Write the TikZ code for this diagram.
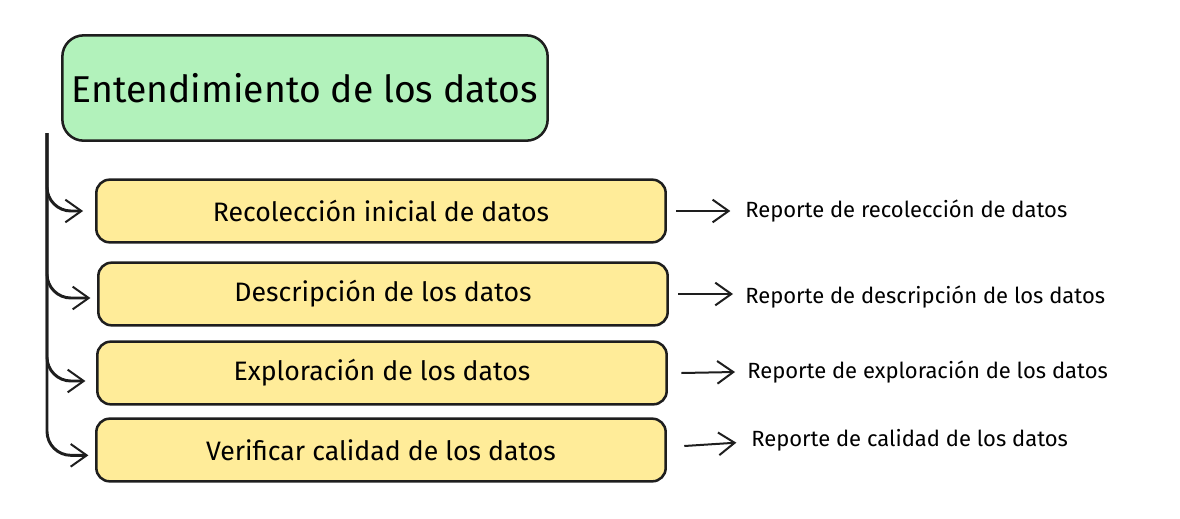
\documentclass[tikz,border=0pt]{standalone}
\usepackage{fontspec}
\setmainfont{Fira Sans}
\usetikzlibrary{arrows.meta}
\definecolor{ink}{HTML}{1E1E1E}
\definecolor{mint}{HTML}{B2F2BB}
\definecolor{butter}{HTML}{FFEC99}
\tikzset{
	titlestyle/.style={rectangle,rounded corners=16pt,draw=ink,line width=1.9pt,fill=mint,minimum width=364pt,minimum height=79pt,font=\fontsize{28}{32}\selectfont},
	taskstyle/.style={rectangle,rounded corners=10pt,draw=ink,line width=1.9pt,fill=butter,minimum width=427pt,minimum height=47pt,font=\fontsize{20}{24}\selectfont},
	reportstyle/.style={anchor=west,inner sep=0pt,font=\fontsize{16.5}{20}\selectfont},
	arr/.style={draw=ink,line width=1.5pt,-{Straight Barb[length=12pt,width=17pt,line width=1.5pt]}}
}
\begin{document}
\begin{tikzpicture}[x=0.75pt,y=-0.75pt]
		\useasboundingbox (0,0) rectangle (1180,518);
		\node[titlestyle] (title) at (305,88) {Entendimiento de los datos};
		\node[taskstyle] (t1) at (381,211) {Recolección inicial de datos};
		\node[taskstyle] (t2) at (383,294) {Descripción de los datos};
		\node[taskstyle] (t3) at (382,373) {Exploración de los datos};
		\node[taskstyle] (t4) at (381,450) {Verificar calidad de los datos};
		\node[reportstyle] (r1) at (745,211) {Reporte de recolección de datos};
		\node[reportstyle] (r2) at (745,297) {Reporte de descripción de los datos};
		\node[reportstyle] (r3) at (747,372) {Reporte de exploración de los datos};
		\node[reportstyle] (r4) at (751,440) {Reporte de calidad de los datos};
		\coordinate (spine) at (47,133);
		\draw[arr,line width=2.2pt,rounded corners=18pt] (spine) |- ([xshift=-9pt]t1.west);
		\draw[arr,line width=2.2pt,rounded corners=18pt] (spine) |- ([xshift=-5pt,yshift=-3pt]t2.west);
		\draw[arr,line width=2.2pt,rounded corners=18pt] (spine) |- ([xshift=-8pt,yshift=-6pt]t3.west);
		\draw[arr,line width=2.2pt,rounded corners=18pt] (spine) |- ([xshift=-5pt,yshift=-4pt]t4.west);
		\draw[arr] ([xshift=7pt]t1.east) -- ([xshift=-11pt]r1.west);
		\draw[arr] ([xshift=7pt]t2.east) -- ([xshift=-9pt]r2.west |- t2.east);
		\draw[arr] ([xshift=10pt]t3.east) -- ([xshift=-9pt]r3.west);
		\draw[arr] ([xshift=13pt,yshift=3pt]t4.east) -- ([xshift=-11pt,yshift=-2pt]r4.west);
\end{tikzpicture}
\end{document}
